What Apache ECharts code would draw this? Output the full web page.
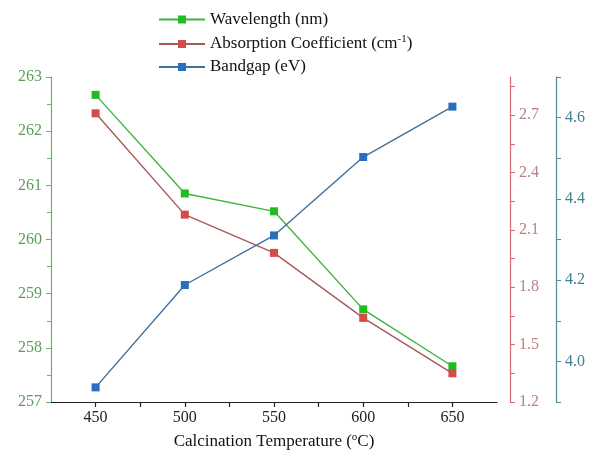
<!DOCTYPE html>
<html>
<head>
<meta charset="utf-8">
<script src="https://cdn.jsdelivr.net/npm/echarts@6/dist/echarts.min.js"></script>
<style>
  html, body { margin: 0; padding: 0; background: #fff; }
  #chart { width: 598px; height: 457px; }
</style>
</head>
<body>
<div id="chart"></div>
<script>
// Calcination temperature (°C)
const temperatures = [450, 500, 550, 600, 650];
// Optical properties at each temperature
const wavelength = [262.67, 260.85, 260.52, 258.71, 257.66];   // nm
const absorption = [2.71, 2.18, 1.98, 1.64, 1.35];             // cm^-1
const bandgap = [3.936, 4.188, 4.31, 4.503, 4.627];            // eV

// Axis tick / label values
const xLabels = [450, 500, 550, 600, 650];
const xTicks = [450, 475, 500, 525, 550, 575, 600, 625, 650];
const absLabels = [1.2, 1.5, 1.8, 2.1, 2.4, 2.7];
const absTicks = [1.2, 1.35, 1.5, 1.65, 1.8, 1.95, 2.1, 2.25, 2.4, 2.55, 2.7, 2.85];
const gapLabels = [4.0, 4.2, 4.4, 4.6];
const gapTicks = [3.9, 4.0, 4.1, 4.2, 4.3, 4.4, 4.5, 4.6, 4.7];

const FONT = '"Liberation Serif", "Times New Roman", serif';

const pair = (xs, ys) => xs.map((x, i) => [x, ys[i]]);

const chart = echarts.init(document.getElementById('chart'), null, { renderer: 'canvas' });

chart.setOption({
  animation: false,
  backgroundColor: '#ffffff',
  grid: { left: 51, right: 101, top: 77, bottom: 55, containLabel: false },
  legend: {
    orient: 'vertical',
    left: 153,
    top: 6,
    itemWidth: 46,
    itemHeight: 10,
    itemGap: 6,
    textStyle: {
      fontFamily: FONT,
      fontSize: 17,
      color: '#111',
      rich: {
        sup: { fontFamily: FONT, fontSize: 11, verticalAlign: 'top', lineHeight: 20 }
      }
    },
    formatter: function (name) {
      if (name.indexOf('Absorption') === 0) return 'Absorption Coefficient (cm{sup|-1})';
      return name;
    },
    data: ['Wavelength (nm)', 'Absorption Coefficient', 'Bandgap (eV)']
  },
  xAxis: {
    type: 'value',
    min: 425,
    max: 675,
    name: 'Calcination Temperature ({sup|o}C)',
    nameLocation: 'middle',
    nameGap: 30,
    nameTextStyle: {
      fontFamily: FONT, fontSize: 17, color: '#111',
      rich: { sup: { fontFamily: FONT, fontSize: 11, verticalAlign: 'top', lineHeight: 20 } }
    },
    axisLine: { show: true, onZero: false, lineStyle: { color: '#222', width: 1.2 } },
    axisTick: { show: true, inside: false, length: 5, customValues: xTicks, lineStyle: { color: '#222', width: 1.2 } },
    axisLabel: { customValues: xLabels, fontFamily: FONT, fontSize: 16, color: '#222', margin: 8 },
    splitLine: { show: false }
  },
  yAxis: [
    {
      type: 'value',
      position: 'left',
      min: 257,
      max: 263,
      interval: 1,
      axisLine: { show: true, lineStyle: { color: '#6cb26c', width: 1.2 } },
      axisTick: { show: true, length: 5, lineStyle: { color: '#6cb26c' } },
      minorTick: { show: true, splitNumber: 2, length: 4, lineStyle: { color: '#6cb26c' } },
      axisLabel: { fontFamily: FONT, fontSize: 16, color: '#5a9e5a', margin: 9 },
      splitLine: { show: false }
    },
    {
      type: 'value',
      position: 'right',
      offset: 13,
      min: 1.2,
      max: 2.9,
      axisLine: { show: true, lineStyle: { color: '#d46a6a', width: 1.2 } },
      axisTick: { show: true, length: 5, customValues: absTicks, lineStyle: { color: '#d46a6a' } },
      axisLabel: {
        customValues: absLabels, fontFamily: FONT, fontSize: 16, color: '#b88383', margin: 9,
        formatter: v => v.toFixed(1)
      },
      splitLine: { show: false }
    },
    {
      type: 'value',
      position: 'right',
      offset: 59,
      min: 3.9,
      max: 4.7,
      axisLine: { show: true, lineStyle: { color: '#4d8c99', width: 1.2 } },
      axisTick: { show: true, length: 5, customValues: gapTicks, lineStyle: { color: '#4d8c99' } },
      axisLabel: {
        customValues: gapLabels, fontFamily: FONT, fontSize: 16, color: '#3f7f92', margin: 9,
        formatter: v => v.toFixed(1)
      },
      splitLine: { show: false }
    }
  ],
  series: [
    {
      name: 'Wavelength (nm)',
      type: 'line',
      yAxisIndex: 0,
      data: pair(temperatures, wavelength),
      symbol: 'rect',
      symbolSize: 8,
      lineStyle: { color: '#3db43d', width: 1.4 },
      itemStyle: { color: '#22bb22' }
    },
    {
      name: 'Absorption Coefficient',
      type: 'line',
      yAxisIndex: 1,
      data: pair(temperatures, absorption),
      symbol: 'rect',
      symbolSize: 8,
      lineStyle: { color: '#a85858', width: 1.4 },
      itemStyle: { color: '#d44b4b' }
    },
    {
      name: 'Bandgap (eV)',
      type: 'line',
      yAxisIndex: 2,
      data: pair(temperatures, bandgap),
      symbol: 'rect',
      symbolSize: 8,
      lineStyle: { color: '#41709a', width: 1.4 },
      itemStyle: { color: '#2a6ebd' }
    }
  ]
});
</script>
</body>
</html>
